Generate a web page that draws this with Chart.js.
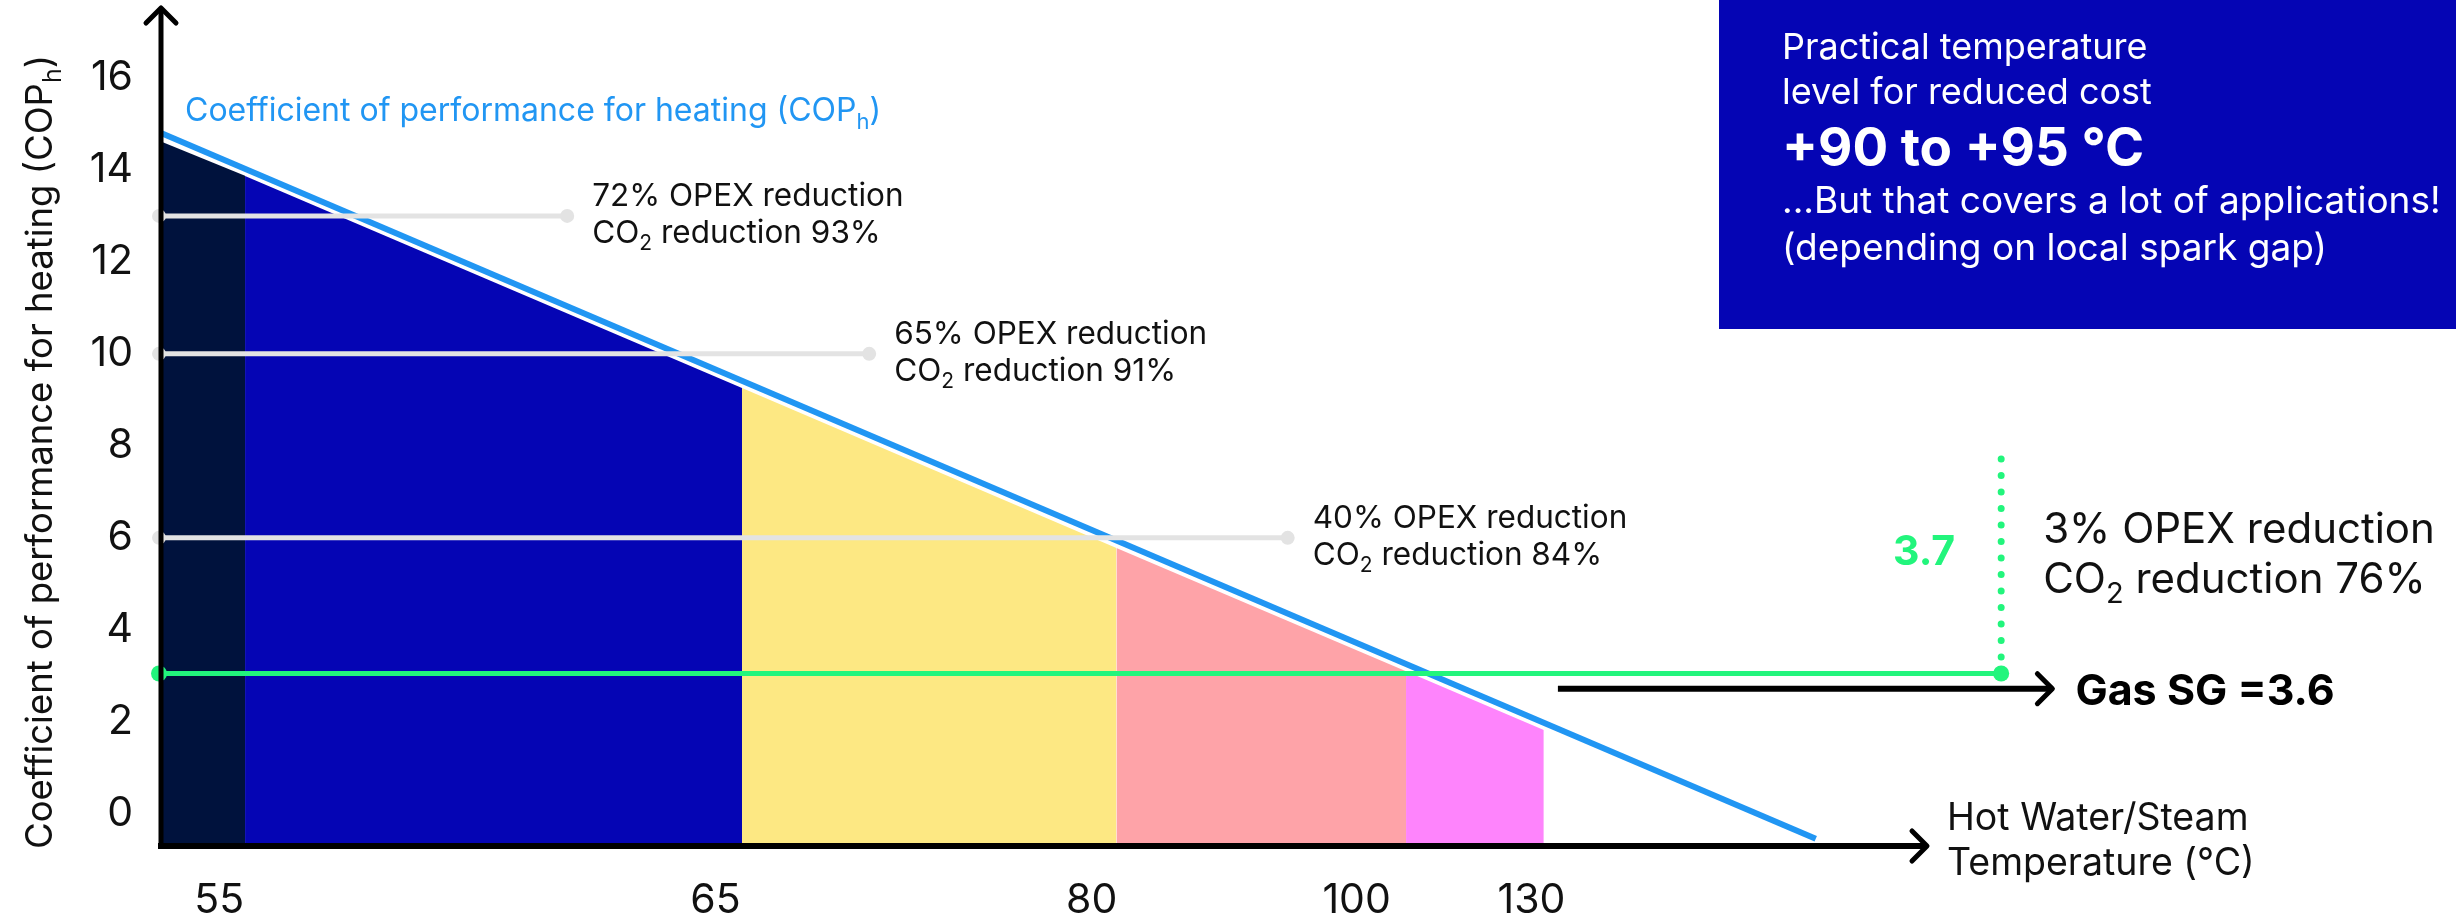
<!DOCTYPE html>
<html lang="en">
<head>
<meta charset="UTF-8">
<title>COP for heating vs temperature</title>
<script src="https://cdn.jsdelivr.net/npm/chart.js@4.4.0/dist/chart.umd.min.js"></script>
<style>
    html, body { margin: 0; padding: 0; background: #fff; }
    canvas { display: block; }
</style>
</head>
<body>
<canvas id="copChart" width="2456" height="917"></canvas>
<script>
// x is a position along the temperature axis (0 = y axis, 100 = arrow tip); the axis is not linear in °C
const xTickPos = [3.3, 31.4, 52.7, 67.7, 77.6];
const xTickLabels = ['55', '65', '80', '100', '130'];
const yTicks = [0, 2, 4, 6, 8, 10, 12, 14, 16];
const Y_MIN = -0.7;
const Y_MAX = 17.52;

// temperature bands under the COP curve
const bandEdges = [0, 4.76, 32.9, 54.1, 70.5, 78.3];
const bandTops = [14.62, 13.87, 9.26, 5.78, 3.10, 1.82];
const bandColors = ['#00123d', '#0505b4', '#fde883', '#fea3a8', '#fe84fc'];

// COP_h line
const copX = [0, 93.7];
const copY = [14.8, -0.54];

// grey reduction markers
const markerY = [13, 10, 6];
const markerEnd = [23.0, 40.1, 63.8];
const markerOpex = ['72% OPEX reduction', '65% OPEX reduction', '40% OPEX reduction'];
const markerCo2 = ['93%', '91%', '84%'];

// gas spark gap line
const gasY = 3.05;
const gasEnd = 104.2;
const gasTop = 8.07;
const sgArrowX = [79.1, 107.1];
const sgArrowY = 2.72;

const GREEN = '#22f57c';
const GREY = '#e3e3e3';
const FONT = 'Inter';

// draws text with subscript parts, returns width
function richText(ctx, parts, x, y, size, weight) {
    let cx = x;
    parts.forEach(([t, sub]) => {
        ctx.font = `${weight} ${sub ? Math.round(size * 0.68) : size}px ${FONT}`;
        ctx.fillText(t, cx, sub ? y + size * 0.24 : y);
        cx += ctx.measureText(t).width;
    });
    return cx - x;
}
function richWidth(ctx, parts, size, weight) {
    let w = 0;
    parts.forEach(([t, sub]) => {
        ctx.font = `${weight} ${sub ? Math.round(size * 0.68) : size}px ${FONT}`;
        w += ctx.measureText(t).width;
    });
    return w;
}

function chevron(ctx, x, y, dir, arm) {
    ctx.beginPath();
    if (dir === 'right') {
        ctx.moveTo(x - arm, y - arm);
        ctx.lineTo(x, y);
        ctx.lineTo(x - arm, y + arm);
    } else {
        ctx.moveTo(x - arm, y + arm);
        ctx.lineTo(x, y);
        ctx.lineTo(x + arm, y + arm);
    }
    ctx.stroke();
}

function dot(ctx, x, y, r, color) {
    ctx.fillStyle = color;
    ctx.beginPath();
    ctx.arc(x, y, r, 0, Math.PI * 2);
    ctx.fill();
}

const decorations = {
    id: 'decorations',
    afterDatasetsDraw(chart) {
        const { ctx, chartArea: a, scales: { x, y } } = chart;
        ctx.save();
        // end dots of the marker lines
        markerY.forEach((v, i) => {
            dot(ctx, x.getPixelForValue(0) - 2, y.getPixelForValue(v), 7, GREY);
            dot(ctx, x.getPixelForValue(markerEnd[i]), y.getPixelForValue(v), 7, GREY);
        });
        dot(ctx, x.getPixelForValue(0) - 2, y.getPixelForValue(gasY), 8, GREEN);
        dot(ctx, x.getPixelForValue(gasEnd), y.getPixelForValue(gasY), 8, GREEN);

        ctx.strokeStyle = '#000';
        ctx.lineJoin = 'miter';
        ctx.lineCap = 'butt';
        // axes
        ctx.lineWidth = 6;
        ctx.beginPath();
        ctx.moveTo(a.left - 3, a.bottom);
        ctx.lineTo(a.right - 2, a.bottom);
        ctx.stroke();
        ctx.lineWidth = 5;
        ctx.beginPath();
        ctx.moveTo(a.left, a.bottom + 3);
        ctx.lineTo(a.left, a.top + 2);
        ctx.stroke();
        ctx.lineCap = 'round';
        ctx.lineJoin = 'round';
        ctx.lineWidth = 5;
        chevron(ctx, a.right, a.bottom, 'right', 15);
        chevron(ctx, a.left, a.top, 'up', 15);
        // gas SG arrow head
        chevron(ctx, x.getPixelForValue(sgArrowX[1]), y.getPixelForValue(sgArrowY), 'right', 15);
        ctx.restore();
    },
    afterDraw(chart) {
        const { ctx, chartArea: a, scales: { x, y } } = chart;
        ctx.save();
        ctx.textBaseline = 'alphabetic';
        ctx.textAlign = 'left';

        // y axis title, rotated
        ctx.fillStyle = '#111';
        const yTitle = [['Coefficient of performance for heating (COP', false], ['h', true], [')', false]];
        ctx.save();
        ctx.translate(52, 452);
        ctx.rotate(-Math.PI / 2);
        const tw = richWidth(ctx, yTitle, 36.5, 400);
        richText(ctx, yTitle, -tw / 2, 0, 36.5, 400);
        ctx.restore();

        // COP line label
        ctx.fillStyle = '#2196f3';
        richText(ctx, [['Coefficient of performance for heating (COP', false], ['h', true], [')', false]], 185, 121, 32, 400);

        // reduction labels
        ctx.fillStyle = '#111';
        markerY.forEach((v, i) => {
            const px = x.getPixelForValue(markerEnd[i]) + 25;
            const py = y.getPixelForValue(v);
            richText(ctx, [[markerOpex[i], false]], px, py - 10, 31.5, 400);
            richText(ctx, [['CO', false], ['2', true], [' reduction ' + markerCo2[i], false]], px, py + 27, 31.5, 400);
        });

        // green value
        const gx = x.getPixelForValue(gasEnd);
        ctx.fillStyle = GREEN;
        ctx.textAlign = 'right';
        ctx.font = `700 41px ${FONT}`;
        ctx.fillText('3.7', gx - 46, 565);
        ctx.textAlign = 'left';

        ctx.fillStyle = '#111';
        richText(ctx, [['3% OPEX reduction', false]], gx + 42, 543, 42, 400);
        richText(ctx, [['CO', false], ['2', true], [' reduction 76%', false]], gx + 42, 593, 42, 400);

        ctx.fillStyle = '#000';
        ctx.font = `700 43px ${FONT}`;
        ctx.fillText('Gas SG =3.6', x.getPixelForValue(sgArrowX[1]) + 23, y.getPixelForValue(sgArrowY) + 16);

        // x axis title
        ctx.fillStyle = '#111';
        ctx.font = `400 37.5px ${FONT}`;
        ctx.fillText('Hot Water/Steam', a.right + 20, 830);
        ctx.fillText('Temperature (°C)', a.right + 20, 875);

        // info box
        ctx.fillStyle = '#0505b4';
        ctx.fillRect(1719, 0, 2456 - 1719, 329);
        ctx.fillStyle = '#fff';
        ctx.font = `400 36px ${FONT}`;
        ctx.fillText('Practical temperature', 1782, 59);
        ctx.fillText('level for reduced cost', 1782, 104);
        ctx.font = `700 53px ${FONT}`;
        ctx.fillText('+90 to +95 °C', 1782, 166);
        ctx.font = `400 37px ${FONT}`;
        ctx.fillText('...But that covers a lot of applications!', 1782, 213);
        ctx.fillText('(depending on local spark gap)', 1782, 260);
        ctx.restore();
    }
};

const datasets = [];
bandColors.forEach((c, i) => {
    datasets.push({
        data: [{ x: bandEdges[i], y: bandTops[i] }, { x: bandEdges[i + 1], y: bandTops[i + 1] }],
        backgroundColor: c,
        borderWidth: 0,
        pointRadius: 0,
        fill: { value: Y_MIN },
        order: 10
    });
});
datasets.push({
    data: copX.map((v, i) => ({ x: v, y: copY[i] })),
    borderColor: '#2196f3',
    borderWidth: 6,
    pointRadius: 0,
    fill: false,
    order: 5
});
markerY.forEach((v, i) => {
    datasets.push({
        data: [{ x: 0, y: v }, { x: markerEnd[i], y: v }],
        borderColor: GREY,
        borderWidth: 5,
        pointRadius: 0,
        fill: false,
        clip: false,
        order: 3
    });
});
datasets.push({
    data: [{ x: 0, y: gasY }, { x: gasEnd, y: gasY }],
    borderColor: GREEN,
    borderWidth: 5,
    pointRadius: 0,
    fill: false,
    clip: false,
    order: 2
});
datasets.push({
    data: [{ x: gasEnd, y: gasY }, { x: gasEnd, y: gasTop }],
    borderColor: GREEN,
    borderWidth: 7,
    borderDash: [0, 16.5],
    borderCapStyle: 'round',
    pointRadius: 0,
    fill: false,
    clip: false,
    order: 2
});
datasets.push({
    data: [{ x: sgArrowX[0], y: sgArrowY }, { x: sgArrowX[1], y: sgArrowY }],
    borderColor: '#000',
    borderWidth: 6,
    pointRadius: 0,
    fill: false,
    clip: false,
    order: 1
});

function makeChart() {
    const ctx = document.getElementById('copChart').getContext('2d');
    new Chart(ctx, {
        type: 'line',
        data: { datasets },
        plugins: [decorations],
        options: {
            responsive: false,
            animation: false,
            devicePixelRatio: 1,
            layout: { padding: { left: 0, top: 8, right: 529, bottom: 0 } },
            plugins: { legend: { display: false }, tooltip: { enabled: false } },
            elements: { line: { tension: 0 } },
            scales: {
                x: {
                    type: 'linear',
                    min: 0,
                    max: 100,
                    grid: { display: false },
                    border: { display: false },
                    afterBuildTicks: s => { s.ticks = xTickPos.map(v => ({ value: v })); },
                    afterFit: s => { s.height = 71; s.paddingLeft = 0; s.paddingRight = 0; },
                    ticks: {
                        autoSkip: false,
                        maxRotation: 0,
                        padding: 22,
                        color: '#111',
                        font: { family: FONT, size: 41 },
                        callback: (v, i) => xTickLabels[i]
                    }
                },
                y: {
                    type: 'linear',
                    min: Y_MIN,
                    max: Y_MAX,
                    grid: { display: false },
                    border: { display: false },
                    afterBuildTicks: s => { s.ticks = yTicks.map(v => ({ value: v })); },
                    afterFit: s => { s.width = 161; s.paddingTop = 0; s.paddingBottom = 0; },
                    ticks: {
                        padding: 20,
                        color: '#111',
                        font: { family: FONT, size: 41 },
                        callback: v => String(v)
                    }
                }
            }
        }
    });
}

if (document.fonts && document.fonts.load) {
    Promise.all([document.fonts.load(`400 36px ${FONT}`), document.fonts.load(`700 40px ${FONT}`)])
        .then(makeChart, makeChart);
} else {
    makeChart();
}
</script>
</body>
</html>
